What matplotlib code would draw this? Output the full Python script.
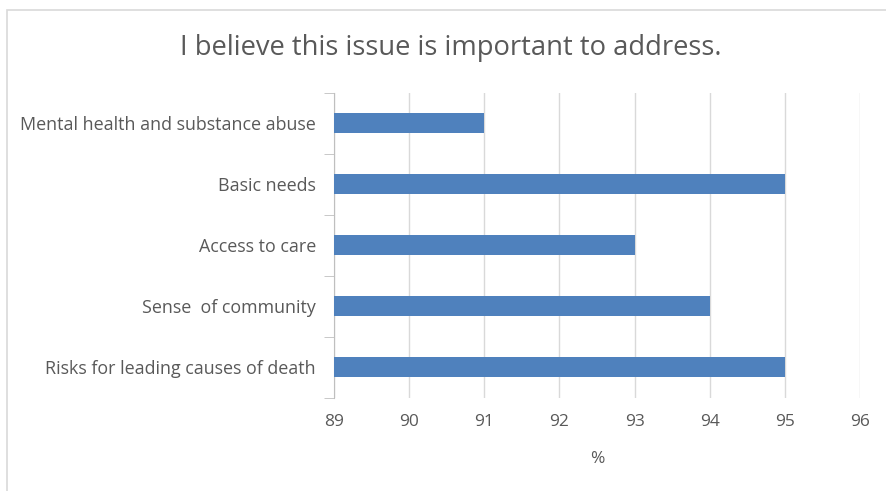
import matplotlib
matplotlib.use("Agg")
import matplotlib.pyplot as plt
from matplotlib.patches import Rectangle

# survey data: share who agree the issue is important
categories = ["Risks for leading causes of death", "Sense  of community",
              "Access to care", "Basic needs", "Mental health and substance abuse"]
values = [95, 94, 93, 95, 91]
xticks = [89, 90, 91, 92, 93, 94, 95, 96]

plt.rcParams["font.family"] = ["Open Sans", "DejaVu Sans"]
txt = "#595959"

fig = plt.figure(figsize=(8.87, 4.91), dpi=100)
ax = fig.add_axes([0.3766, 0.1904, 0.593, 0.6212])

ax.barh(range(len(categories)), values, height=0.33, color="#4F81BD", zorder=3)
ax.set_xlim(89, 96)
ax.set_ylim(-0.5, len(categories) - 0.5)
ax.set_xticks(xticks)
ax.set_xticklabels([str(v) for v in xticks], fontsize=12.5, color=txt)
ax.set_yticks(range(len(categories)))
ax.set_yticklabels(categories, fontsize=12.9, color=txt)
ax.tick_params(axis="y", length=0, pad=13)
ax.tick_params(axis="x", length=0, pad=12)
# small category separators on the left axis
ax.set_yticks([i - 0.5 for i in range(len(categories) + 1)], minor=True)
ax.tick_params(axis="y", which="minor", length=7, color="#bfbfbf", direction="out")

ax.grid(axis="x", color="#d9d9d9", linewidth=1, zorder=0)
for s in ["top", "right", "bottom"]:
    ax.spines[s].set_visible(False)
ax.spines["left"].set_color("#bfbfbf")
ax.set_xlabel("%", fontsize=12.5, color=txt, labelpad=15)

fig.text(0.508, 0.902, "I believe this issue is important to address.",
         ha="center", va="center", fontsize=19.7, color=txt)

# chart frame
fig.patches.append(Rectangle((7 / 887, -0.1), 1.2, 1 - 10 / 491 + 0.1,
                             transform=fig.transFigure, fill=False,
                             edgecolor="#d9d9d9", linewidth=1.2))

fig.savefig("out.png", dpi=100)
